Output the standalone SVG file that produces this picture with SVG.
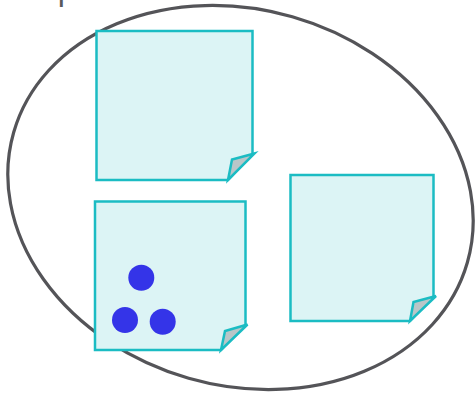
<svg xmlns="http://www.w3.org/2000/svg" width="476" height="395" viewBox="0 0 476 395">
<style>
.note{fill:#dcf4f5;stroke:#1bbcc3;stroke-width:2.5;stroke-linejoin:miter}
.flap{fill:#b9c6c8;stroke:#1bbcc3;stroke-width:2.5;stroke-linejoin:miter}
.dot{fill:#3434e8}
.lbl{font-family:"Liberation Sans",Arial,sans-serif;font-size:32px;fill:#58595b}
</style>
<rect width="476" height="395" fill="#ffffff"/>
<text class="lbl" x="24" y="-0.4">Topic</text>
<g id="boundary">
<ellipse cx="240.5" cy="197.5" rx="236" ry="188" transform="rotate(16 240.5 197.5)" fill="none" stroke="#545458" stroke-width="3.2"/>
</g>
<g id="connectors"></g>
<g id="note1">
<path class="note" d="M96.5,31 H252.5 V154 L228,180 H96.5 Z"/>
<path class="flap" d="M228,180 L232,159.5 L254.5,153.5 Z"/>
</g>
<g id="note2">
<path class="note" d="M95,201.5 H245.5 V324.5 L221,350 H95 Z"/>
<path class="flap" d="M221,350 L225,331 L247.5,324.5 Z"/>
<circle class="dot" cx="141.3" cy="277.7" r="13"/>
<circle class="dot" cx="125" cy="320" r="13"/>
<circle class="dot" cx="162.7" cy="321.7" r="13"/>
</g>
<g id="note3">
<path class="note" d="M290.5,175 H433.5 V296.5 L410,321 H290.5 Z"/>
<path class="flap" d="M410,321 L413.5,302 L436,296 Z"/>
</g>
</svg>
